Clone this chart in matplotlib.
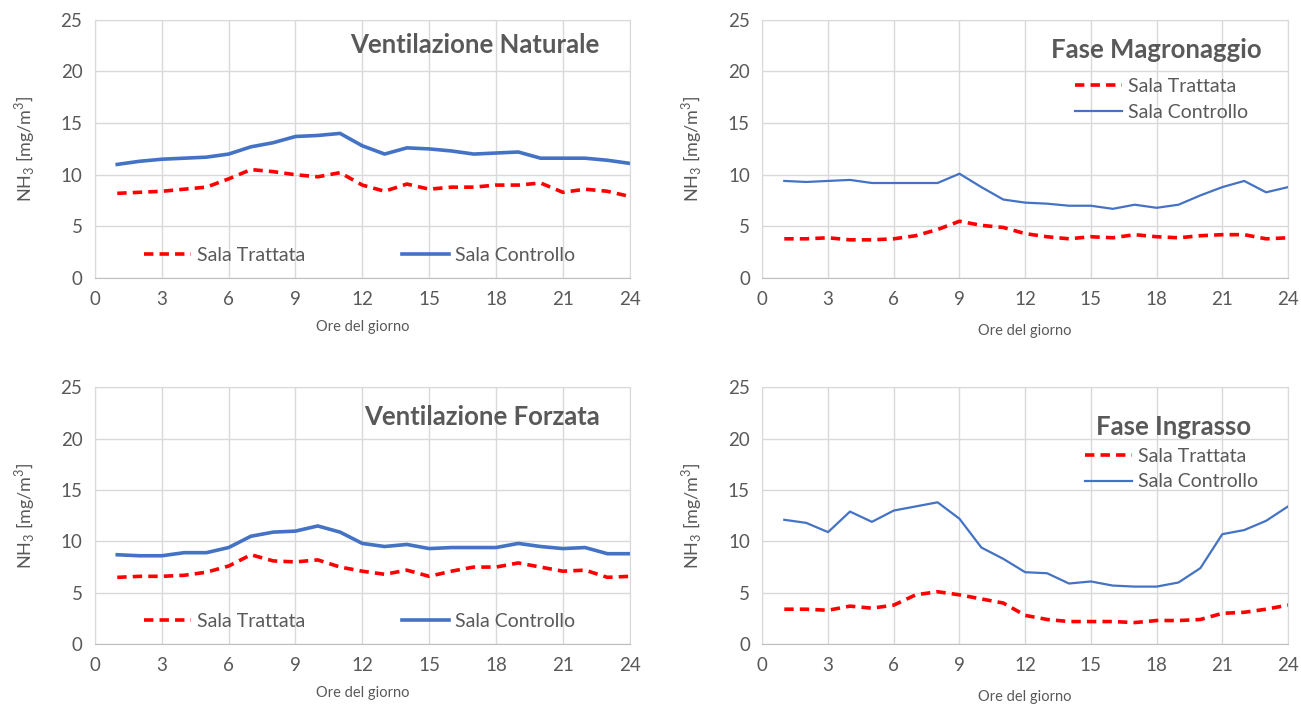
import matplotlib
matplotlib.use('Agg')

import matplotlib.pyplot as plt

plt.rcParams['font.family'] = ['Lato', 'DejaVu Sans']
plt.rcParams['mathtext.fontset'] = 'custom'
plt.rcParams['mathtext.rm'] = 'Lato'

# ore del giorno
ore = list(range(1, 25))

# Ventilazione Naturale
nat_trattata = [8.2, 8.3, 8.4, 8.6, 8.8, 9.6, 10.5, 10.3, 10.0, 9.8, 10.2, 9.0,
                8.4, 9.1, 8.6, 8.8, 8.8, 9.0, 9.0, 9.2, 8.3, 8.6, 8.4, 7.9]
nat_controllo = [11.0, 11.3, 11.5, 11.6, 11.7, 12.0, 12.7, 13.1, 13.7, 13.8, 14.0, 12.8,
                 12.0, 12.6, 12.5, 12.3, 12.0, 12.1, 12.2, 11.6, 11.6, 11.6, 11.4, 11.1]

# Fase Magronaggio
mag_trattata = [3.8, 3.8, 3.9, 3.7, 3.7, 3.8, 4.1, 4.7, 5.5, 5.1, 4.9, 4.3,
                4.0, 3.8, 4.0, 3.9, 4.2, 4.0, 3.9, 4.1, 4.2, 4.2, 3.8, 3.9]
mag_controllo = [9.4, 9.3, 9.4, 9.5, 9.2, 9.2, 9.2, 9.2, 10.1, 8.8, 7.6, 7.3,
                 7.2, 7.0, 7.0, 6.7, 7.1, 6.8, 7.1, 8.0, 8.8, 9.4, 8.3, 8.8]

# Ventilazione Forzata
for_trattata = [6.5, 6.6, 6.6, 6.7, 7.0, 7.6, 8.7, 8.1, 8.0, 8.2, 7.5, 7.1,
                6.8, 7.2, 6.6, 7.1, 7.5, 7.5, 7.9, 7.5, 7.1, 7.2, 6.5, 6.6]
for_controllo = [8.7, 8.6, 8.6, 8.9, 8.9, 9.4, 10.5, 10.9, 11.0, 11.5, 10.9, 9.8,
                 9.5, 9.7, 9.3, 9.4, 9.4, 9.4, 9.8, 9.5, 9.3, 9.4, 8.8, 8.8]

# Fase Ingrasso
ing_trattata = [3.4, 3.4, 3.3, 3.7, 3.5, 3.8, 4.8, 5.1, 4.8, 4.4, 4.0, 2.8,
                2.4, 2.2, 2.2, 2.2, 2.1, 2.3, 2.3, 2.4, 3.0, 3.1, 3.4, 3.8]
ing_controllo = [12.1, 11.8, 10.9, 12.9, 11.9, 13.0, 13.4, 13.8, 12.2, 9.4, 8.3, 7.0,
                 6.9, 5.9, 6.1, 5.7, 5.6, 5.6, 6.0, 7.4, 10.7, 11.1, 12.0, 13.4]

x_ticks = list(range(0, 25, 3))
y_ticks = [0, 5, 10, 15, 20, 25]

ROSSO = '#FF0000'
BLU = '#4472C4'
GRIGIO = '#595959'

fig = plt.figure(figsize=(13.01, 7.04), dpi=100)


def pannello(rect, titolo, trattata, controllo, lw_blu, title_xy, legenda, xpad):
    ax = fig.add_axes(rect)
    ax.plot(ore, trattata, color=ROSSO, lw=2.6, dashes=(2.6, 1.7), label='Sala Trattata')
    ax.plot(ore, controllo, color=BLU, lw=lw_blu, label='Sala Controllo')
    ax.set_xlim(0, 24)
    ax.set_ylim(0, 25)
    ax.set_xticks(x_ticks)
    ax.set_yticks(y_ticks)
    ax.grid(True, color='#d9d9d9', lw=1)
    ax.set_axisbelow(True)
    for s in ax.spines.values():
        s.set_color('#d9d9d9')
    ax.spines['bottom'].set_color('#bfbfbf')
    ax.tick_params(length=0, labelsize=13.5, colors=GRIGIO, pad=9)
    ax.set_xlabel('Ore del giorno', fontsize=10.5, color=GRIGIO, labelpad=xpad)
    ax.set_ylabel(r'NH$_3$ [mg/m$^3$]', fontsize=13, color=GRIGIO, labelpad=17)
    ax.text(title_xy[0], title_xy[1], titolo, transform=ax.transAxes, ha='right', va='center',
            fontsize=18.5, fontweight='bold', color=GRIGIO)
    if legenda == 'riga':
        ax.legend(loc='center left', bbox_to_anchor=(0.092, 0.088), ncol=2, frameon=False,
                  fontsize=14, labelcolor=GRIGIO, handlelength=2.4, handletextpad=0.3,
                  columnspacing=5.0, borderpad=0, borderaxespad=0)
    else:
        ax.legend(loc='upper left', bbox_to_anchor=legenda, ncol=1, frameon=False,
                  fontsize=14, labelcolor=GRIGIO, handlelength=2.4, handletextpad=0.3,
                  labelspacing=0.45, borderpad=0, borderaxespad=0)
    return ax


pannello([0.073, 0.605, 0.411, 0.367], 'Ventilazione Naturale', nat_trattata, nat_controllo,
         2.6, (0.944, 0.903), 'riga', 9)
pannello([0.586, 0.605, 0.404, 0.367], 'Fase Magronaggio', mag_trattata, mag_controllo,
         1.6, (0.95, 0.884), (0.595, 0.775), 12)
pannello([0.073, 0.085, 0.411, 0.365], 'Ventilazione Forzata', for_trattata, for_controllo,
         2.6, (0.944, 0.883), 'riga', 9)
pannello([0.586, 0.085, 0.404, 0.365], 'Fase Ingrasso', ing_trattata, ing_controllo,
         1.6, (0.93, 0.845), (0.614, 0.765), 12)

fig.savefig('out.png', dpi=100)
